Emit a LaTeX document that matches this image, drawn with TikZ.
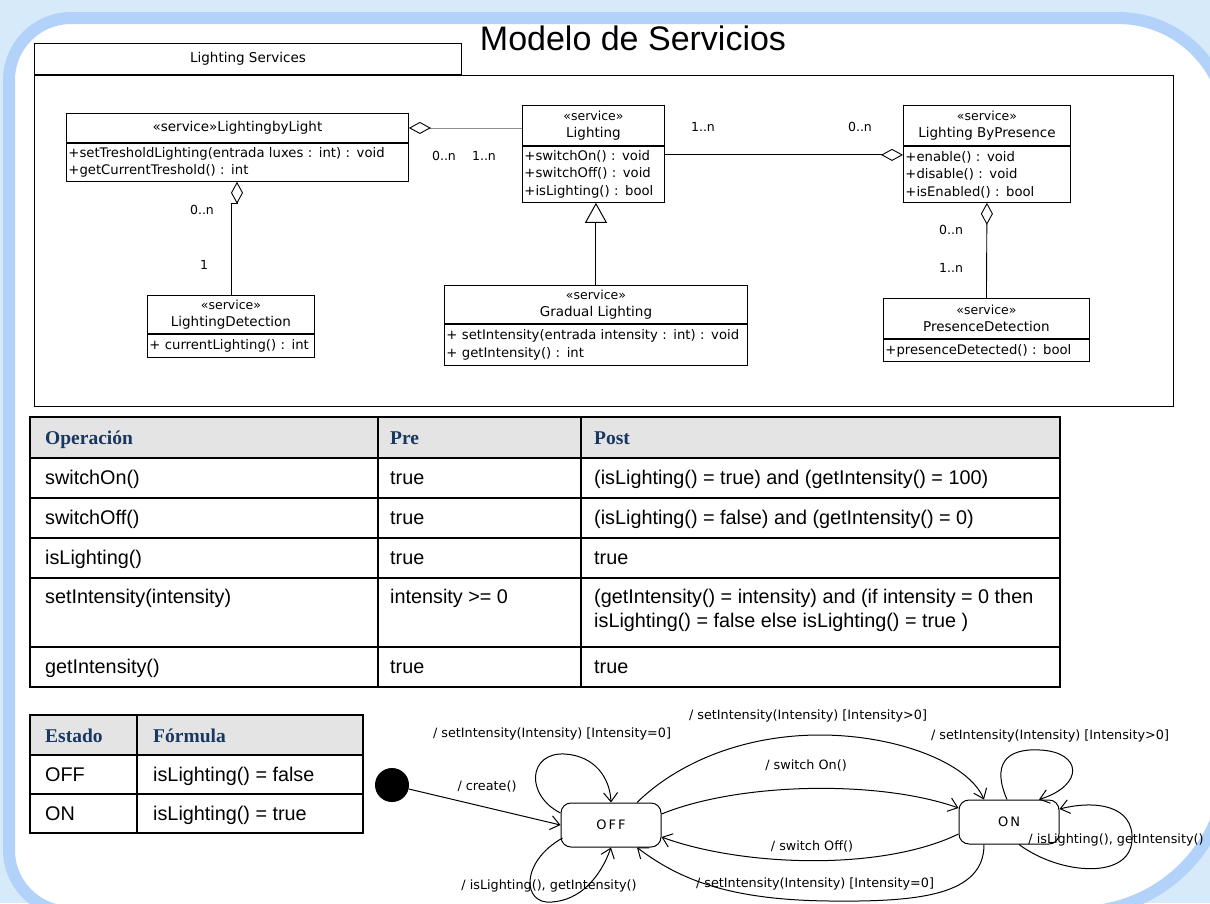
\documentclass[tikz,border=0pt]{standalone}
\usepackage{fontspec}
\setmainfont{Liberation Sans}
\newfontfamily\umlfont{DejaVu Sans}
\newfontfamily\hdfont{Liberation Serif}
\usetikzlibrary{arrows.meta,calc}
\definecolor{bgblue}{RGB}{214,234,250}
\definecolor{bandblue}{RGB}{178,210,250}
\definecolor{headgray}{RGB}{228,228,228}
\definecolor{headnavy}{RGB}{24,56,98}
\definecolor{linkgray}{RGB}{140,140,140}
\tikzset{
  umlhead/.style={draw, line width=0.9pt, anchor=north west, inner sep=0pt, align=center,
    font=\umlfont\fontsize{13.5}{17}\selectfont},
  umlbody/.style={draw, line width=0.9pt, anchor=north west, inner sep=2pt, align=left,
    font=\umlfont\fontsize{13.2}{17.5}\selectfont},
  mult/.style={font=\umlfont\fontsize{12.5}{14}\selectfont},
  aggrstart/.style={{Diamond[open,length=22pt,width=12pt,color=black]}-, line width=0.9pt},
  aggrend/.style={-{Diamond[open,length=22pt,width=12pt,color=black]}, line width=0.9pt},
  genlink/.style={-{Triangle[open,length=20pt,width=22pt]}, line width=1pt},
  trans/.style={-{Straight Barb[length=9pt,width=14pt]}, line width=1pt},
  stbox/.style={draw, line width=1pt, rounded corners=10pt, minimum width=100pt,
    minimum height=44pt, inner sep=0pt, font=\umlfont\fontsize{13}{15}\selectfont},
  translbl/.style={font=\umlfont\fontsize{12.8}{15}\selectfont, inner sep=0pt},
  cell/.style={anchor=base west, inner sep=0pt, font=\fontsize{19.8}{24}\selectfont},
  hcell/.style={anchor=base west, inner sep=0pt, text=headnavy,
    font=\hdfont\bfseries\fontsize{19.5}{24}\selectfont},
  rule/.style={line width=1.2pt},
  heavyrule/.style={line width=2.2pt},
}
\begin{document}
\begin{tikzpicture}[x=1pt,y=-1pt]
\useasboundingbox (0,0) rectangle (1210,903);
% slide background and rounded frame
\fill[bgblue] (0,0) rectangle (1210,903);
\draw[bandblue, line width=12pt, fill=white]
  (9,80) .. controls (9,45.8) and (36.8,18) .. (71,18)
  -- (1118,18) .. controls (1178.8,18) and (1228,67.2) .. (1228,128)
  -- (1228,762) .. controls (1228,844.8) and (1160.8,912) .. (1078,912)
  -- (71,912) .. controls (36.8,912) and (9,884.2) .. (9,850) -- cycle;

% title
\node[anchor=base, inner sep=0pt, font=\fontsize{34}{40}\selectfont] (title) at (633,50) {Modelo de Servicios};

% package frame
\node[draw, line width=1pt, minimum width=427pt, minimum height=31pt, anchor=north west,
  inner sep=0pt, font=\umlfont\fontsize{13.5}{16}\selectfont] (pkgtab) at (34,43) {Lighting Services};
\node[draw, line width=1pt, minimum width=1139pt, minimum height=331pt, anchor=north west,
  inner sep=0pt] (pkg) at (pkgtab.south west) {};

% service classes
\node[umlhead, minimum width=342pt, minimum height=29pt] (lblH) at (66,113) {«service»LightingbyLight};
\node[umlbody, text width=338pt, minimum height=38pt] (lblB) at (lblH.south west)
  {\mbox{+setTresholdLighting(entrada luxes : int) : void}\\\mbox{+getCurrentTreshold() : int}};

\node[umlhead, minimum width=142pt, minimum height=40pt] (lgtH) at (522,105) {{\fontsize{12.5}{17}\selectfont «service»}\\Lighting};
\node[umlbody, text width=138pt, minimum height=56pt] (lgtB) at (lgtH.south west)
  {\mbox{+switchOn() : void}\\\mbox{+switchOff() : void}\\\mbox{+isLighting() : bool}};

\node[umlhead, minimum width=167pt, minimum height=40pt] (lbpH) at (903,105) {{\fontsize{12.5}{17}\selectfont «service»}\\Lighting ByPresence};
\node[umlbody, text width=163pt, minimum height=56pt] (lbpB) at (lbpH.south west)
  {\mbox{+enable() : void}\\\mbox{+disable() : void}\\\mbox{+isEnabled() : bool}};

\node[umlhead, minimum width=167pt, minimum height=38pt] (ldtH) at (147,295) {{\fontsize{12.5}{17}\selectfont «service»}\\LightingDetection};
\node[umlbody, text width=163pt, minimum height=23pt] (ldtB) at (ldtH.south west)
  {\mbox{+ currentLighting() : int}};

\node[umlhead, minimum width=303pt, minimum height=38pt] (glH) at (444,285) {{\fontsize{12.5}{17}\selectfont «service»}\\Gradual Lighting};
\node[umlbody, text width=299pt, minimum height=41pt] (glB) at (glH.south west)
  {\mbox{+ setIntensity(entrada intensity : int) : void}\\\mbox{+ getIntensity() : int}};

\node[umlhead, minimum width=206pt, minimum height=40pt] (pdH) at (883,298) {{\fontsize{12.5}{17}\selectfont «service»}\\PresenceDetection};
\node[umlbody, text width=202pt, minimum height=22pt] (pdB) at (pdH.south west)
  {\mbox{+presenceDetected() : bool}};

% relations between the services
\draw[aggrstart, draw=linkgray] (lblH.east) -- (lgtH.west |- lblH.east);
\node[mult] (m1) at (444,156) {0..n};
\node[mult] (m2) at (484,156) {1..n};

\draw[aggrend] ($(lgtB.north east)+(0,9)$) -- ($(lbpB.north west)+(0,9)$);
\node[mult] (m3) at (703,127) {1..n};
\node[mult] (m4) at (860,127) {0..n};

\draw[aggrstart] ($(lblB.south west)+(171,0)$) -- ++(0,22) -| (ldtH.north);
\node[mult] (m5) at (202,210) {0..n};
\node[mult] (m6) at (204,265) {1};

\draw[genlink] (glH.north) -- (glH.north |- lgtB.south);

\draw[aggrstart] (lbpB.south) -- (pdH.north);
\node[mult] (m7) at (951,230) {0..n};
\node[mult] (m8) at (951,268) {1..n};

% operation contract table
\fill[headgray] (30,417) rectangle (1060,458);
\draw[rule] (30,417) rectangle (1060,687);
\foreach \y in {458,498,578} \draw[rule] (30,\y) -- (1060,\y);
\foreach \y in {538,647} \draw[heavyrule] (30,\y) -- (1060,\y);
\foreach \x in {378,581} \draw[rule] (\x,417) -- (\x,687);

\node[hcell] (hOp) at (45,444) {Operación};
\node[hcell] (hPre) at (390,444) {Pre};
\node[hcell] (hPost) at (594,444) {Post};

\node[cell] (c11) at (45,484) {switchOn()};
\node[cell] (c12) at (390,484) {true};
\node[cell] (c13) at (594,484) {(isLighting() = true) and (getIntensity() = 100)};
\node[cell] (c21) at (45,524) {switchOff()};
\node[cell] (c22) at (390,524) {true};
\node[cell] (c23) at (594,524) {(isLighting() = false) and (getIntensity() = 0)};
\node[cell] (c31) at (45,564) {isLighting()};
\node[cell] (c32) at (390,564) {true};
\node[cell] (c33) at (594,564) {true};
\node[cell] (c41) at (45,603) {setIntensity(intensity)};
\node[cell] (c42) at (390,603) {intensity >= 0};
\node[cell] (c43) at (594,603) {(getIntensity() = intensity) and (if intensity = 0 then};
\node[cell] (c43b) at (594,627) {isLighting() = false else isLighting() = true )};
\node[cell] (c51) at (45,673) {getIntensity()};
\node[cell] (c52) at (390,673) {true};
\node[cell] (c53) at (594,673) {true};

% state formula table
\fill[headgray] (30,715) rectangle (363,755);
\draw[rule] (30,715) rectangle (363,833);
\foreach \y in {755,794} \draw[rule] (30,\y) -- (363,\y);
\draw[rule] (137,715) -- (137,833);
\node[hcell] (hEst) at (45,742) {Estado};
\node[hcell] (hFor) at (153,742) {Fórmula};
\node[cell] (s11) at (45,781) {OFF};
\node[cell] (s12) at (153,781) {isLighting() = false};
\node[cell] (s21) at (45,820) {ON};
\node[cell] (s22) at (153,820) {isLighting() = true};

% state machine
\node[circle, fill=black, minimum size=34pt, inner sep=0pt] (init) at (392,785) {};
\node[stbox] (off) at (611,825) {O\kern2pt F\kern2pt F};
\node[stbox] (on) at (1009,822) {O\kern2pt N};

\draw[trans] (init) -- (off.west);
\node[translbl] (lcreate) at (487,786) {/ create()};

\draw[trans] ($(off.west)+(0,-12)$) .. controls (525,795) and (528,752) .. (565,754)
  .. controls (595,756) and (610,778) .. (off.north);
\node[translbl] (loffset) at (552,734) {/ setIntensity(Intensity) [Intensity=0]};

\draw[trans] ($(off.west)+(2,13)$) .. controls (520,862) and (522,905) .. (552,902)
  .. controls (580,900) and (600,878) .. (off.south);
\node[translbl] (loffis) at (549,886) {/ isLighting(), getIntensity()};

\draw[trans] ($(off.north)+(26,0)$) .. controls (675,765) and (740,735) .. (820,735)
  .. controls (895,735) and (968,762) .. ($(on.north)+(-25,0)$);
\node[translbl] (lsetgt) at (808,716) {/ setIntensity(Intensity) [Intensity>0]};

\draw[trans] ($(off.east)+(0,-11)$) .. controls (740,782) and (880,780) .. ($(on.west)+(0,-14)$);
\node[translbl] (lon) at (806,765) {/ switch On()};

\draw[trans] ($(on.west)+(0,12)$) .. controls (880,872) and (740,866) .. ($(off.east)+(0,12)$);
\node[translbl] (loff) at (812,846) {/ switch Off()};

\draw[trans] ($(on.south)+(-25,0)$) .. controls (984,895) and (920,902) .. (830,901)
  .. controls (730,900) and (680,880) .. ($(off.south)+(26,0)$);
\node[translbl] (lsetz) at (815,884) {/ setIntensity(Intensity) [Intensity=0]};

\draw[trans] ($(on.north)+(-2,0)$) .. controls (992,765) and (1005,748) .. (1040,750)
  .. controls (1082,752) and (1085,785) .. ($(on.north)+(30,0)$);
\node[translbl] (lonset) at (1050,736) {/ setIntensity(Intensity) [Intensity>0]};

\draw[trans] ($(on.south)+(10,0)$) .. controls (1060,875) and (1130,880) .. (1132,840)
  .. controls (1134,805) and (1095,800) .. ($(on.east)+(0,-13)$);
\node[translbl] (lonis) at (1116,840) {/ isLighting(), getIntensity()};
\end{tikzpicture}
\end{document}
